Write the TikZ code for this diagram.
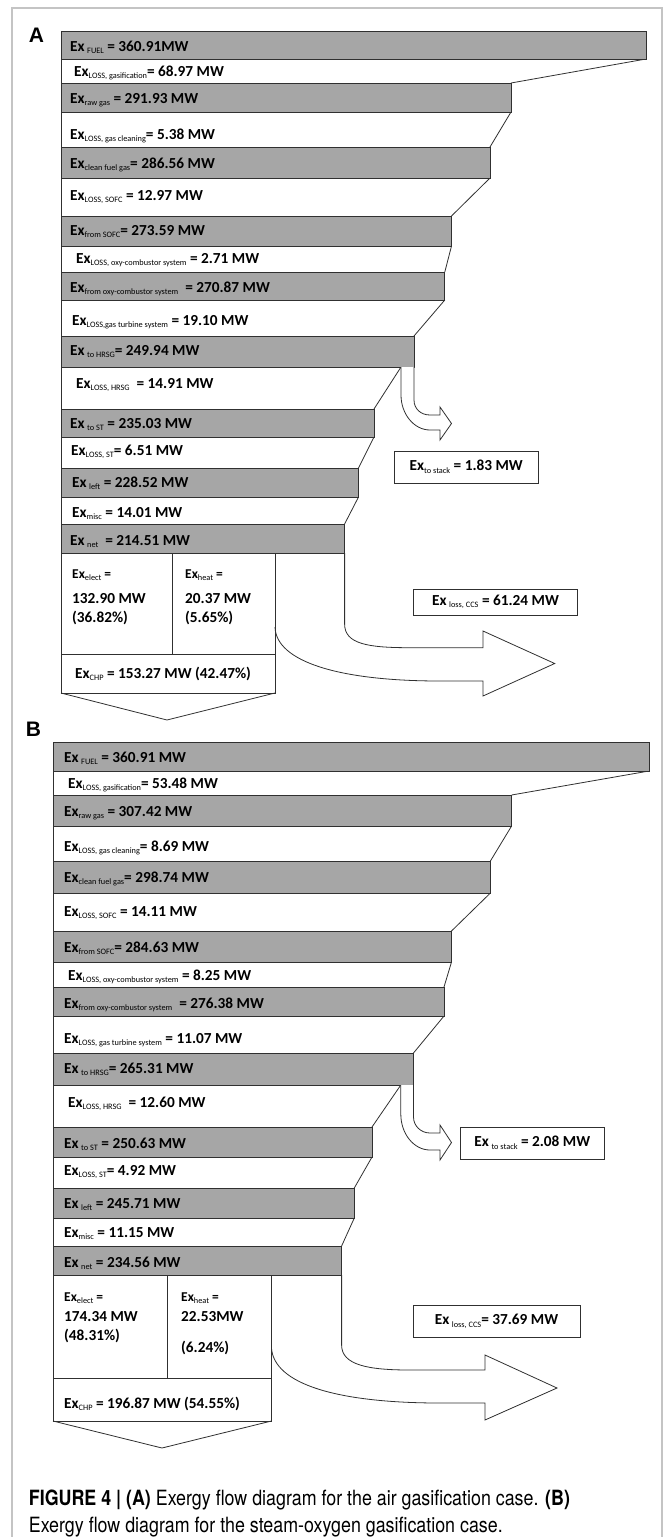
\documentclass[tikz,border=0pt]{standalone}
\usepackage{fontspec}
\setmainfont{Carlito}
\newfontfamily\capfont[FakeStretch=0.85]{TeX Gyre Heros}
\newfontfamily\labfont{Liberation Sans}
\newcommand\sbx[1]{\raisebox{-2.6pt}{\fontsize{8.3}{9}\selectfont\mdseries #1}}
\definecolor{barg}{HTML}{A6A6A6}
\definecolor{lineg}{HTML}{303030}
\definecolor{frameg}{HTML}{C4C4C4}
\begin{document}
\begin{tikzpicture}[x=1pt,y=-1pt,
  barbox/.style={fill=barg, draw=lineg, line width=0.9pt},
  ln/.style={draw=lineg, line width=0.8pt},
  tx/.style={anchor=base west, inner sep=0pt, font=\fontsize{15.3}{17}\selectfont\bfseries},
  txs/.style={anchor=base west, inner sep=0pt, font=\fontsize{13.5}{15}\selectfont\bfseries},
  boxn/.style={draw=lineg, line width=0.8pt, fill=white, inner sep=0pt, font=\fontsize{15.3}{17}\selectfont\bfseries},
  panellab/.style={inner sep=0pt, font=\fontsize{21}{22}\labfont\bfseries},
  captxt/.style={anchor=base west, inner sep=0pt, font=\fontsize{21}{24}\capfont}]
\useasboundingbox (0,0) rectangle (663,1537);
% frame
\draw[frameg, line width=1.6pt] (12,1545) -- (12,8) -- (662,8) -- (662,1545);

% ================= PANEL A =================
\node[panellab] (labA) at (36.5,35.5) {A};
% left edge and loss diagonals
\draw[ln] (61,31) -- (61,693);
\draw[ln] (646,59) -- (511,83);
\draw[ln] (511,112) -- (490,147);
\draw[ln] (490,178) -- (451.5,216);
\draw[ln] (451.5,246) -- (444.8,272);
\draw[ln] (444.8,300) -- (414,336);
\draw[ln] (401,367) -- (374,409);
\draw[ln] (374,437) -- (358.5,468);
\draw[ln] (358.5,497) -- (344.6,524);
% bars
\draw[barbox] (61,31) rectangle (646,59);
\draw[barbox] (61,83) rectangle (511,112);
\draw[barbox] (61,147) rectangle (490,178);
\draw[barbox] (61,216) rectangle (451.5,246);
\draw[barbox] (61,272) rectangle (444.8,300);
\draw[barbox] (61,336) rectangle (414,367);
\draw[barbox] (61,409) rectangle (374,437);
\draw[barbox] (61,468) rectangle (358.5,497);
\draw[barbox] (61,524) rectangle (344.6,553);
% stack arrow
\draw[ln, fill=white] (414,367) -- (414,400) .. controls (414,409) and (421,415) .. (430,415)
  -- (440,415) -- (440,407) -- (451.5,423.5) -- (440,440) -- (440,430) -- (430,430)
  .. controls (414,430) and (401,414) .. (401,395) -- (401,367);
% products
\draw[ln] (61,553) rectangle (275,693);
\draw[ln] (172.5,553) -- (172.5,654);
\draw[ln] (61,654) -- (275,654);
\draw[ln] (61,693) -- (167,720) -- (275,693);
% CCS arrow
\draw[ln] (344.6,553) -- (344.6,624) .. controls (344.6,644) and (368,647.7) .. (410,647.7)
  -- (483,647.7) -- (483,631) -- (554.7,663.5) -- (483,696) -- (483,681) -- (440,681)
  .. controls (340,681) and (276,662) .. (275,627);
% texts
\node[tx] (a01) at (70,51) {Ex\,\sbx{FUEL} = 360.91MW};
\node[tx] (a02) at (74,76) {Ex\sbx{LOSS, gasification}= 68.97 MW};
\node[tx] (a03) at (70,103) {Ex\sbx{raw gas} = 291.93 MW};
\node[tx] (a04) at (70,139) {Ex\sbx{LOSS, gas cleaning}= 5.38 MW};
\node[tx] (a05) at (70,168) {Ex\sbx{clean fuel gas}= 286.56 MW};
\node[tx] (a06) at (70,200) {Ex\sbx{LOSS, SOFC} = 12.97 MW};
\node[tx] (a07) at (70,235) {Ex\sbx{from SOFC}= 273.59 MW};
\node[tx] (a08) at (76,263) {Ex\sbx{LOSS, oxy-combustor system} = 2.71 MW};
\node[tx] (a09) at (70,292) {Ex\sbx{from oxy-combustor system}\ \ = 270.87 MW};
\node[tx] (a10) at (72,325) {Ex\sbx{LOSS,gas turbine system} = 19.10 MW};
\node[tx] (a11) at (70,355) {Ex\,\sbx{to HRSG}= 249.94 MW};
\node[tx] (a12) at (76,388) {Ex\sbx{LOSS, HRSG}\ \ = 14.91 MW};
\node[tx] (a13) at (70,428) {Ex\,\sbx{to ST} = 235.03 MW};
\node[tx] (a14) at (71,455) {Ex\sbx{LOSS, ST}= 6.51 MW};
\node[tx] (a15) at (72,487) {Ex\,\sbx{left} = 228.52 MW};
\node[tx] (a16) at (72,517) {Ex\sbx{misc} = 14.01 MW};
\node[tx] (a17) at (70,545) {Ex\,\sbx{net}\ \ = 214.51 MW};
\node[txs] (a18) at (72,578) {Ex\sbx{elect} =};
\node[tx] (a19) at (72,603) {132.90 MW};
\node[tx] (a20) at (72,622) {(36.82\%)};
\node[txs] (a21) at (185,578) {Ex\sbx{heat} =};
\node[tx] (a22) at (185,603) {20.37 MW};
\node[tx] (a23) at (185,622) {(5.65\%)};
\node[tx] (a24) at (75,678) {Ex\sbx{CHP} = 153.27 MW (42.47\%)};
\node[boxn, minimum width=143.5pt, minimum height=32pt] (a25) at (466.25,467) {Ex\sbx{to stack} = 1.83 MW};
\node[boxn, minimum width=164pt, minimum height=26pt] (a26) at (495.5,602) {Ex\,\sbx{loss, CCS} = 61.24 MW};

% ================= PANEL B =================
\node[panellab] (labB) at (33.5,729) {B};
\draw[ln] (53,742) -- (53,1421);
\draw[ln] (649,771) -- (511.6,795);
\draw[ln] (511.6,826) -- (490.4,861);
\draw[ln] (490.4,893) -- (451.5,931);
\draw[ln] (451.5,962) -- (444,987);
\draw[ln] (444,1016) -- (413.5,1053);
\draw[ln] (400.8,1085) -- (372,1127);
\draw[ln] (372,1157) -- (354.3,1188);
\draw[ln] (354.3,1218) -- (341.6,1246);
\draw[barbox] (53,742) rectangle (649,771);
\draw[barbox] (53,795) rectangle (511.6,826);
\draw[barbox] (53,861) rectangle (490.4,893);
\draw[barbox] (53,931) rectangle (451.5,962);
\draw[barbox] (53,987) rectangle (444,1016);
\draw[barbox] (53,1053) rectangle (413.5,1085);
\draw[barbox] (53,1127) rectangle (372,1157);
\draw[barbox] (53,1188) rectangle (354.3,1218);
\draw[barbox] (53,1246) rectangle (341.6,1275);
% stack arrow
\draw[ln, fill=white] (413.5,1085) -- (413.5,1117) .. controls (413.5,1126) and (421,1133) .. (430,1133)
  -- (440,1133) -- (440,1125) -- (451.5,1142.5) -- (440,1160) -- (440,1150) -- (430,1150)
  .. controls (414,1150) and (400.8,1134) .. (400.8,1114) -- (400.8,1085);
% products
\draw[ln] (53,1275) rectangle (271.4,1421);
\draw[ln] (167.4,1275) -- (167.4,1378);
\draw[ln] (53,1378) -- (271.4,1378);
\draw[ln] (53,1421) -- (162,1448) -- (271.4,1421);
% CCS arrow
\draw[ln] (341.6,1275) -- (341.6,1345) .. controls (341.6,1365) and (368,1370) .. (410,1370)
  -- (485,1370) -- (485,1355) -- (557,1388) -- (485,1420) -- (485,1403) -- (440,1403)
  .. controls (340,1403) and (273,1385) .. (271.4,1347);
% texts
\node[tx] (b01) at (64,762) {Ex\,\sbx{FUEL} = 360.91 MW};
\node[tx] (b02) at (68,788) {Ex\sbx{LOSS, gasification}= 53.48 MW};
\node[tx] (b03) at (64,816) {Ex\sbx{raw gas} = 307.42 MW};
\node[tx] (b04) at (64,851) {Ex\sbx{LOSS, gas cleaning}= 8.69 MW};
\node[tx] (b05) at (64,882) {Ex\sbx{clean fuel gas}= 298.74 MW};
\node[tx] (b06) at (64,916) {Ex\sbx{LOSS, SOFC} = 14.11 MW};
\node[tx] (b07) at (64,952) {Ex\sbx{from SOFC}= 284.63 MW};
\node[tx] (b08) at (68,980) {Ex\sbx{LOSS, oxy-combustor system} = 8.25 MW};
\node[tx] (b09) at (64,1008) {Ex\sbx{from oxy-combustor system}\ \ = 276.38 MW};
\node[tx] (b10) at (64,1043) {Ex\sbx{LOSS, gas turbine system} = 11.07 MW};
\node[tx] (b11) at (64,1073) {Ex\,\sbx{to HRSG}= 265.31 MW};
\node[tx] (b12) at (68,1107) {Ex\sbx{LOSS, HRSG}\ \ = 12.60 MW};
\node[tx] (b13) at (64,1148) {Ex\,\sbx{to ST} = 250.63 MW};
\node[tx] (b14) at (64,1175) {Ex\sbx{LOSS, ST}= 4.92 MW};
\node[tx] (b15) at (64,1208) {Ex\,\sbx{left} = 245.71 MW};
\node[tx] (b16) at (64,1237) {Ex\sbx{misc} = 11.15 MW};
\node[tx] (b17) at (64,1267) {Ex\,\sbx{net} = 234.56 MW};
\node[txs] (b18) at (64,1301) {Ex\sbx{elect} =};
\node[tx] (b19) at (64,1321) {174.34 MW};
\node[tx] (b20) at (64,1340) {(48.31\%)};
\node[txs] (b21) at (181,1301) {Ex\sbx{heat} =};
\node[tx] (b22) at (181,1321) {22.53MW};
\node[tx] (b23) at (181,1352) {(6.24\%)};
\node[tx] (b24) at (64,1408) {Ex\sbx{CHP} = 196.87 MW (54.55\%)};
\node[boxn, minimum width=144.6pt, minimum height=32pt] (b25) at (532.3,1143) {Ex\,\sbx{to stack} = 2.08 MW};
\node[boxn, minimum width=167pt, minimum height=32pt] (b26) at (496.5,1321) {Ex\,\sbx{loss, CCS}= 37.69 MW};

% caption
\node[captxt] (cap1) at (28.7,1505) {\textbf{FIGURE 4 | (A)} Exergy flow diagram for the air gasification case. \textbf{(B)}};
\node[captxt] (cap2) at (28.7,1532) {Exergy flow diagram for the steam-oxygen gasification case.};
\end{tikzpicture}
\end{document}
